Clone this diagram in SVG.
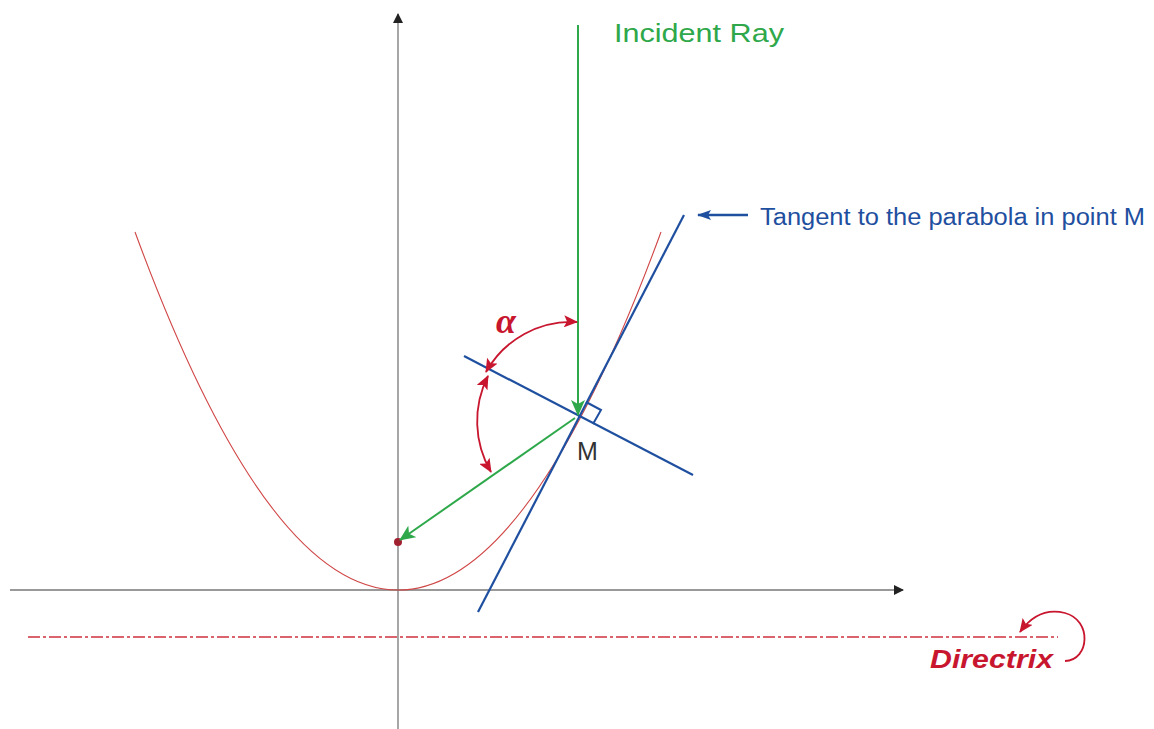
<svg xmlns="http://www.w3.org/2000/svg" width="1154" height="729" viewBox="0 0 1154 729">
<style>
.axis{stroke:#777;stroke-width:1.3;fill:none}
.green{stroke:#2ea84a;stroke-width:2;fill:none}
.blue{stroke:#1f4f9f;stroke-width:2.2;fill:none}
.red{stroke:#c8162f;stroke-width:1.8;fill:none}
.t{font-family:"Liberation Sans",Arial,sans-serif}
</style>
<defs>
<marker id="ab" markerWidth="10" markerHeight="10" refX="9" refY="5" orient="auto" markerUnits="userSpaceOnUse" viewBox="0 0 10 10"><path d="M0,0 L10,5 L0,10 z" fill="#222"/></marker>
<marker id="ag" markerWidth="16" markerHeight="14" refX="15" refY="7" orient="auto" markerUnits="userSpaceOnUse" viewBox="0 0 16 14"><path d="M0,0 L16,7 L0,14 L4,7 z" fill="#2ea84a"/></marker>
<marker id="abl" markerWidth="14" markerHeight="10" refX="13" refY="5" orient="auto" markerUnits="userSpaceOnUse" viewBox="0 0 14 10"><path d="M0,0 L14,5 L0,10 L3,5 z" fill="#1f4f9f"/></marker>
<marker id="ar" markerWidth="14" markerHeight="12" refX="13" refY="6" orient="auto-start-reverse" markerUnits="userSpaceOnUse" viewBox="0 0 14 12"><path d="M0,0 L14,6 L0,12 L3,6 z" fill="#c8162f"/></marker>
</defs>
<rect width="1154" height="729" fill="#fff"/>
<g id="axes">
<line class="axis" x1="398" y1="729" x2="398" y2="14" marker-end="url(#ab)"/>
<line class="axis" x1="10" y1="590" x2="903" y2="590" marker-end="url(#ab)"/>
</g>
<g id="parabola">
<path d="M135,232 Q398,948 661,232" fill="none" stroke="#d04545" stroke-width="1.1"/>
</g>
<g id="directrix">
<line x1="28" y1="637" x2="1058" y2="637" stroke="#d0303f" stroke-width="1.5" stroke-dasharray="12,3,3,3"/>
<text class="t" x="930" y="668" font-size="25" font-weight="bold" font-style="italic" fill="#c8162f" textLength="123" lengthAdjust="spacingAndGlyphs">Directrix</text>
</g>
<g id="tangent">
<line class="blue" x1="478" y1="612" x2="684" y2="215"/>
<text class="t" x="760" y="225" font-size="23" fill="#1f4f9f" textLength="385" lengthAdjust="spacingAndGlyphs">Tangent to the parabola in point M</text>
</g>
<g id="normal">
<line class="blue" x1="464" y1="356" x2="693" y2="475"/>
<path class="blue" d="M586,402 L601,410 L593,424" style="stroke-width:2"/>
</g>
<g id="focus">
<circle cx="398" cy="542" r="4" fill="#a02030"/>
</g>
<g id="labels">
<text class="t" x="614" y="42" font-size="26" fill="#2ea84a" textLength="170" lengthAdjust="spacingAndGlyphs">Incident Ray</text>
<text class="t" x="577" y="460" font-size="25" fill="#333">M</text>
<text x="496" y="333" font-size="36" font-weight="bold" font-style="italic" fill="#c8162f" font-family="'Liberation Serif','Times New Roman',serif">α</text>
</g>
<g id="connectors">
<line class="green" x1="578" y1="25" x2="578" y2="415" marker-end="url(#ag)"/>
<line class="green" x1="575" y1="418" x2="400" y2="540" marker-end="url(#ag)"/>
<line class="blue" x1="748" y1="215" x2="698" y2="215" marker-end="url(#abl)" style="stroke-width:2.5"/>
<path class="red" d="M577,322 A98,98 0 0,0 486,372" marker-start="url(#ar)" marker-end="url(#ar)"/>
<path class="red" d="M488,376 A100,100 0 0,0 491,472" marker-start="url(#ar)" marker-end="url(#ar)"/>
<path class="red" d="M1065,661 C1090,660 1092,620 1065,613 C1045,608 1030,618 1020,632" marker-end="url(#ar)"/>
</g>
</svg>
